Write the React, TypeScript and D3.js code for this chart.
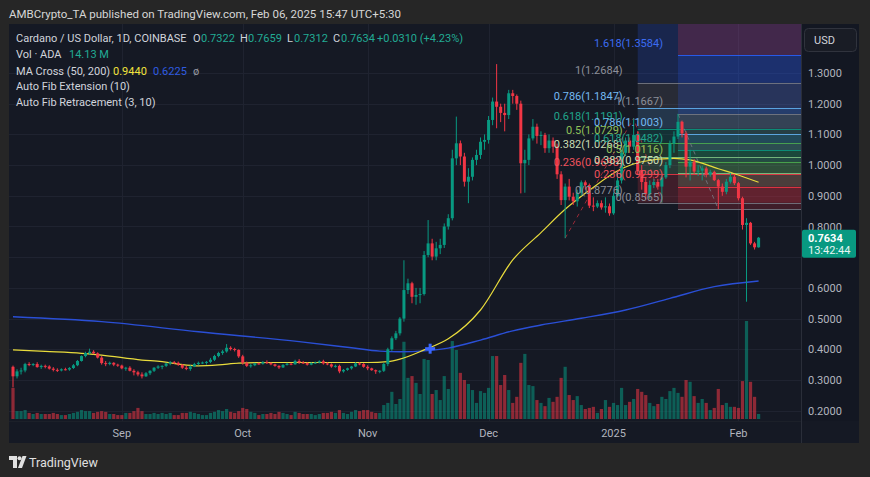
import React from "react";
import * as d3 from "d3";

// ADA/USD daily, Coinbase, 2024-08-05 .. 2025-02-06
const startDate = new Date(2024, 7, 5);
const firstOpen = 0.343;

const closes = [
  0.312, 0.328, 0.331, 0.352, 0.35, 0.352, 0.342, 0.346, 0.344, 0.337,
  0.333, 0.331, 0.335, 0.334, 0.339, 0.348, 0.362, 0.378, 0.388, 0.392,
  0.387, 0.373, 0.355, 0.352, 0.356, 0.35, 0.347, 0.338, 0.34, 0.33,
  0.325, 0.318, 0.312, 0.322, 0.33, 0.34, 0.344, 0.346, 0.354, 0.358,
  0.356, 0.35, 0.34, 0.336, 0.344, 0.352, 0.356, 0.357, 0.359, 0.366,
  0.378, 0.388, 0.393, 0.405, 0.401, 0.398, 0.377, 0.356, 0.346, 0.348,
  0.354, 0.353, 0.358, 0.355, 0.351, 0.346, 0.341, 0.349, 0.353, 0.351,
  0.362, 0.357, 0.355, 0.35, 0.355, 0.357, 0.361, 0.354, 0.351, 0.344,
  0.346, 0.328, 0.333, 0.338, 0.344, 0.354, 0.352, 0.343, 0.338, 0.332,
  0.328, 0.33, 0.352, 0.4, 0.436, 0.452, 0.5, 0.593, 0.615, 0.571,
  0.577, 0.58, 0.707, 0.745, 0.702, 0.729, 0.74, 0.8, 0.827, 1.022,
  1.071, 1.028, 0.946, 0.962, 1.017, 1.033, 1.076, 1.082, 1.147, 1.207,
  1.19, 1.17, 1.163, 1.234, 1.225, 1.2, 1.006, 1.017, 1.087, 1.125,
  1.095, 1.098, 1.055, 1.08, 1.06, 0.97, 0.886, 0.93, 0.897, 0.882,
  0.91, 0.944, 0.935, 0.868, 0.865, 0.876, 0.862, 0.866, 0.843, 0.9,
  0.95, 1.04, 1.08, 1.06, 1.098, 0.984, 0.945, 0.905, 0.935, 0.945,
  0.93, 0.96, 1.0, 1.07, 1.093, 1.141, 1.103, 0.995, 1.011, 0.979,
  0.982, 0.989, 0.968, 0.978, 0.951, 0.93, 0.913, 0.946, 0.962, 0.941,
  0.892, 0.805, 0.812, 0.745, 0.7322, 0.7634,
];

const highs = [
  0.347, 0.335, 0.34, 0.356, 0.358, 0.355, 0.358, 0.35, 0.35, 0.348,
  0.342, 0.338, 0.338, 0.34, 0.342, 0.352, 0.365, 0.38, 0.392, 0.402,
  0.397, 0.39, 0.378, 0.362, 0.36, 0.358, 0.353, 0.35, 0.343, 0.345,
  0.335, 0.33, 0.325, 0.326, 0.332, 0.342, 0.348, 0.348, 0.356, 0.362,
  0.362, 0.36, 0.352, 0.346, 0.348, 0.356, 0.36, 0.36, 0.362, 0.372,
  0.382, 0.392, 0.398, 0.417, 0.41, 0.405, 0.4, 0.382, 0.36, 0.352,
  0.356, 0.357, 0.362, 0.364, 0.358, 0.353, 0.348, 0.352, 0.356, 0.356,
  0.366, 0.368, 0.362, 0.358, 0.358, 0.36, 0.364, 0.366, 0.358, 0.354,
  0.35, 0.35, 0.336, 0.34, 0.346, 0.358, 0.358, 0.355, 0.348, 0.34,
  0.334, 0.332, 0.356, 0.405, 0.442, 0.46, 0.505, 0.69, 0.63, 0.62,
  0.6, 0.6, 0.72, 0.821, 0.76, 0.75, 0.76, 0.81, 0.84, 1.05,
  1.158, 1.08, 1.04, 0.99, 1.025, 1.05, 1.09, 1.1, 1.16, 1.22,
  1.329, 1.2, 1.2, 1.245, 1.245, 1.23, 1.21, 1.05, 1.1, 1.15,
  1.135, 1.11, 1.105, 1.1, 1.09, 1.07, 0.98, 0.94, 0.955, 0.91,
  0.92, 0.95, 0.95, 0.94, 0.895, 0.885, 0.885, 0.895, 0.875, 0.91,
  0.98, 1.05, 1.09, 1.09, 1.153, 1.11, 1.0, 0.96, 0.95, 0.955,
  0.955, 0.97, 1.01, 1.08, 1.11, 1.1667, 1.145, 1.11, 1.05, 1.02,
  1.0, 0.998, 0.995, 0.985, 0.982, 0.955, 0.94, 0.955, 0.975, 0.97,
  0.945, 0.897, 0.827, 0.815, 0.75, 0.7659,
];

const lows = [
  0.276, 0.305, 0.318, 0.325, 0.345, 0.345, 0.34, 0.336, 0.338, 0.334,
  0.328, 0.326, 0.328, 0.331, 0.33, 0.336, 0.345, 0.36, 0.374, 0.383,
  0.384, 0.37, 0.35, 0.345, 0.348, 0.345, 0.343, 0.335, 0.33, 0.328,
  0.315, 0.312, 0.305, 0.31, 0.316, 0.326, 0.336, 0.335, 0.342, 0.348,
  0.352, 0.346, 0.336, 0.332, 0.33, 0.342, 0.348, 0.352, 0.35, 0.355,
  0.362, 0.374, 0.382, 0.389, 0.396, 0.393, 0.372, 0.35, 0.342, 0.34,
  0.345, 0.35, 0.35, 0.352, 0.348, 0.343, 0.336, 0.339, 0.347, 0.348,
  0.35, 0.352, 0.352, 0.347, 0.348, 0.352, 0.354, 0.35, 0.348, 0.34,
  0.34, 0.322, 0.324, 0.33, 0.334, 0.342, 0.348, 0.34, 0.332, 0.33,
  0.32, 0.322, 0.326, 0.345, 0.395, 0.43, 0.445, 0.49, 0.58, 0.55,
  0.545, 0.55, 0.575, 0.7, 0.69, 0.69, 0.71, 0.73, 0.79, 0.82,
  1.0, 1.0, 0.93, 0.876, 0.95, 1.0, 1.02, 1.05, 1.07, 1.13,
  1.12, 1.14, 1.11, 1.15, 1.2, 1.18, 0.908, 0.91, 1.0, 1.08,
  1.07, 1.065, 1.04, 1.04, 1.04, 0.955, 0.87, 0.762, 0.885, 0.87,
  0.865, 0.9, 0.92, 0.86, 0.85, 0.86, 0.855, 0.845, 0.835, 0.838,
  0.895, 0.94, 1.03, 1.04, 1.05, 0.97, 0.92, 0.89, 0.89, 0.925,
  0.92, 0.8776, 0.955, 0.99, 1.04, 1.085, 1.09, 0.96, 0.95, 0.97,
  0.965, 0.95, 0.96, 0.962, 0.948, 0.8565, 0.9, 0.905, 0.94, 0.935,
  0.885, 0.79, 0.555, 0.74, 0.725, 0.7312,
];

// volume in millions ADA
const volumes = [
  87, 22, 22, 25, 17, 14, 17, 14, 14, 14,
  17, 14, 11, 11, 14, 17, 20, 25, 22, 22,
  17, 20, 22, 20, 14, 14, 11, 11, 17, 17,
  22, 31, 22, 14, 14, 17, 14, 17, 14, 17,
  11, 11, 17, 17, 20, 17, 14, 11, 11, 17,
  20, 25, 22, 28, 20, 17, 22, 31, 28, 20,
  17, 11, 14, 14, 17, 14, 20, 17, 14, 11,
  20, 17, 14, 14, 14, 11, 14, 17, 17, 20,
  17, 25, 17, 14, 20, 25, 22, 25, 25, 20,
  17, 17, 39, 45, 76, 42, 56, 216, 115, 120,
  101, 70, 168, 165, 70, 81, 53, 120, 84, 218,
  193, 129, 109, 98, 81, 45, 78, 73, 87, 176,
  176, 95, 123, 81, 45, 62, 157, 182, 95, 92,
  53, 45, 36, 59, 48, 62, 115, 146, 67, 53,
  64, 39, 28, 31, 34, 17, 28, 53, 34, 45,
  39, 87, 39, 48, 56, 84, 76, 67, 45, 36,
  42, 62, 56, 78, 87, 73, 62, 109, 104, 64,
  45, 56, 45, 25, 31, 84, 39, 45, 34, 34,
  31, 106, 274, 104, 62, 14.13,
];

// moving averages (day index, value)
const ma50Days = [0, 8, 17, 22, 32, 37, 41, 46, 51, 56, 63, 72, 80, 88, 93, 96, 102, 108, 116, 124, 131, 137, 143, 151, 156, 164, 168, 175, 179, 185];
const ma50Vals = [0.398, 0.393, 0.387, 0.381, 0.365, 0.36, 0.352, 0.346, 0.349, 0.355, 0.357, 0.357, 0.357, 0.357, 0.36, 0.368, 0.398, 0.434, 0.528, 0.691, 0.78, 0.856, 0.918, 0.988, 1.011, 1.022, 1.017, 0.988, 0.972, 0.944];
const ma200Days = [0, 22, 46, 71, 84, 91, 96, 102, 108, 116, 124, 131, 141, 152, 163, 174, 185];
const ma200Vals = [0.506, 0.49, 0.457, 0.425, 0.405, 0.394, 0.392, 0.395, 0.404, 0.43, 0.46, 0.479, 0.501, 0.528, 0.566, 0.604, 0.6225];
const crossDay = 103.5;
const crossPrice = 0.402;

const priceTicks = [0.2, 0.3, 0.4, 0.5, 0.6, 0.7, 0.8, 0.9, 1.0, 1.1, 1.2, 1.3];
const monthDates = [new Date(2024, 8, 1), new Date(2024, 9, 1), new Date(2024, 10, 1), new Date(2024, 11, 1), new Date(2025, 0, 1), new Date(2025, 1, 1)];
const monthLabels = ["Sep", "Oct", "Nov", "Dec", "2025", "Feb"];

// auto fib extension / retracement
const extRatios = [0, 0.236, 0.382, 0.5, 0.618, 0.786, 1, 1.618];
const extPrices = [0.8776, 0.9698, 1.0268, 1.0729, 1.1191, 1.1847, 1.2684, 1.5099];
const extStartDay = 155;
const extPivotDays = [137, 154, 161];
const extPivotPrices = [0.762, 1.153, 0.8776];
const retrRatios = [0, 0.236, 0.382, 0.5, 0.618, 0.786, 1, 1.618, 2.618];
const retrPrices = [0.8565, 0.9299, 0.975, 1.0116, 1.0482, 1.1003, 1.1667, 1.3584, 1.6686];
const retrStartDay = 165;
const retrPivotDays = [165, 175];
const retrPivotPrices = [1.1667, 0.8565];
const fibColors: Record<string, string> = {
  "0": "#787b86",
  "0.236": "#f23645",
  "0.382": "#81c784",
  "0.5": "#4caf50",
  "0.618": "#089981",
  "0.786": "#64b5f6",
  "1": "#787b86",
  "1.618": "#2962ff",
  "2.618": "#f23645",
};
const fibLabelColors: Record<string, string> = {
  "0": "#8c8f99",
  "0.236": "#f0525d",
  "0.382": "#c9dcb4",
  "0.5": "#8fc25a",
  "0.618": "#20a58c",
  "0.786": "#74b9f2",
  "1": "#8c8f99",
  "1.618": "#3c6cf2",
};

const UP = "#089981";
const DOWN = "#f23645";
const FONT = "Roboto, 'Noto Sans', sans-serif";

const W = 870;
const H = 477;
const panel = { left: 9, top: 24, right: 859, bottom: 443 };
const plot = { left: 9, top: 24, right: 801, bottom: 421 };

const App: React.FC = () => {
  const xScale = d3.scaleLinear().domain([0, 185]).range([13, 758.6]);
  const yScale = d3.scaleLinear().domain([0.2, 1.3]).range([410.7, 73]);
  const volScale = d3.scaleLinear().domain([0, 274]).range([0, 98]);
  const volBase = 419;

  const candles = closes.map((c, i) => ({
    i,
    o: i === 0 ? firstOpen : closes[i - 1],
    h: highs[i],
    l: lows[i],
    c,
    v: volumes[i],
  }));

  const maLine = d3
    .line<[number, number]>()
    .x((d) => xScale(d[0]))
    .y((d) => yScale(d[1]))
    .curve(d3.curveMonotoneX);
  const ma50Path = maLine(ma50Days.map((d, k) => [d, ma50Vals[k]]));
  const ma200Path = maLine(ma200Days.map((d, k) => [d, ma200Vals[k]]));

  const monthX = monthDates.map((d) => xScale(d3.timeDay.count(startDate, d)));

  const lastClose = closes[closes.length - 1];
  const labelTop = yScale(lastClose) - 8;
  const labelBottom = labelTop + 28;

  const fibBands = (ratios: number[], prices: number[], startDay: number) => {
    const x0 = xScale(startDay);
    return ratios.slice(1).map((r, k) => {
      const yTop = yScale(prices[k + 1]);
      const yBot = yScale(prices[k]);
      return (
        <rect
          key={`b${startDay}-${k}`}
          x={x0}
          y={yTop}
          width={plot.right - x0}
          height={yBot - yTop}
          fill={fibColors[String(r)]}
          opacity={0.19}
        />
      );
    });
  };

  const fibLines = (ratios: number[], prices: number[], startDay: number) => {
    const x0 = xScale(startDay);
    return ratios.map((r, k) => (
      <line
        key={`l${startDay}-${k}`}
        x1={x0}
        x2={plot.right}
        y1={Math.round(yScale(prices[k])) + 0.5}
        y2={Math.round(yScale(prices[k])) + 0.5}
        stroke={fibColors[String(r)]}
        strokeWidth={1}
        opacity={0.85}
      />
    ));
  };

  const fibLabels = (ratios: number[], prices: number[], startDay: number) => {
    const x0 = xScale(startDay) - 15;
    return ratios
      .filter((_, k) => prices[k] < 1.45)
      .map((r, k) => (
        <text
          key={`t${startDay}-${k}`}
          x={x0}
          y={yScale(prices[k]) - 8.5}
          textAnchor="end"
          fontSize={11}
          fill={fibLabelColors[String(r)]}
        >
          {`${r}(${prices[k].toFixed(4)})`}
        </text>
      ));
  };

  const pivotPath = (days: number[], prices: number[]) =>
    d3
      .line<number>()
      .x((d) => xScale(d))
      .y((_, k) => yScale(prices[k]))(days);

  const cx = xScale(crossDay);
  const cy = yScale(crossPrice);

  return (
    <svg
      width={W}
      height={H}
      viewBox={`0 0 ${W} ${H}`}
      style={{ position: "absolute", left: 0, top: 0, display: "block" }}
      fontFamily={FONT}
    >
      <defs>
        <clipPath id="plotClip">
          <rect x={plot.left} y={plot.top} width={plot.right - plot.left} height={plot.bottom - plot.top} />
        </clipPath>
      </defs>
      <rect x={0} y={0} width={W} height={H} fill="#262626" />
      <text x={9} y={18} fontSize={11.5} fill="#d6d6d6">
        AMBCrypto_TA published on TradingView.com, Feb 06, 2025 15:47 UTC+5:30
      </text>

      <rect
        x={panel.left}
        y={panel.top}
        width={panel.right - panel.left}
        height={panel.bottom - panel.top}
        fill="#151924"
      />
      <rect x={plot.right} y={panel.top} width={panel.right - plot.right} height={plot.bottom - panel.top} fill="#131722" />

      {/* grid */}
      <g stroke="#1f2330" strokeWidth={1}>
        {priceTicks.map((p) => (
          <line
            key={`g${p}`}
            x1={plot.left}
            x2={plot.right}
            y1={Math.round(yScale(p)) + 0.5}
            y2={Math.round(yScale(p)) + 0.5}
          />
        ))}
        {monthX.map((x, k) => (
          <line key={`gv${k}`} x1={Math.round(x) + 0.5} x2={Math.round(x) + 0.5} y1={plot.top} y2={plot.bottom} />
        ))}
      </g>

      <g clipPath="url(#plotClip)">
        {/* fib zones */}
        {fibBands(extRatios, extPrices, extStartDay)}
        {fibBands(retrRatios, retrPrices, retrStartDay)}
        {fibLines(extRatios, extPrices, extStartDay)}
        {fibLines(retrRatios, retrPrices, retrStartDay)}
        <path
          d={pivotPath(extPivotDays, extPivotPrices) || ""}
          fill="none"
          stroke="#f23645"
          strokeOpacity={0.6}
          strokeDasharray="4 4"
          strokeWidth={1}
        />
        <path
          d={pivotPath(retrPivotDays, retrPivotPrices) || ""}
          fill="none"
          stroke="#787b86"
          strokeOpacity={0.8}
          strokeDasharray="4 4"
          strokeWidth={1}
        />

        {/* volume */}
        {candles.map((d) => (
          <rect
            key={`v${d.i}`}
            x={xScale(d.i) - 1.6}
            y={volBase - volScale(d.v)}
            width={3.2}
            height={volScale(d.v)}
            fill={d.c >= d.o ? UP : DOWN}
            opacity={0.55}
          />
        ))}

        {/* moving averages */}
        <path d={ma200Path || ""} fill="none" stroke="#2a4fd6" strokeWidth={1.4} />
        <path d={ma50Path || ""} fill="none" stroke="#e9dc3c" strokeWidth={1.2} />

        {/* candles */}
        {candles.map((d) => {
          const x = xScale(d.i);
          const col = d.c >= d.o ? UP : DOWN;
          const yTop = yScale(Math.max(d.o, d.c));
          const yBot = yScale(Math.min(d.o, d.c));
          return (
            <g key={`c${d.i}`}>
              <line x1={x} x2={x} y1={yScale(Math.max(d.h, d.o, d.c))} y2={yScale(Math.min(d.l, d.o, d.c))} stroke={col} strokeWidth={1} />
              <rect x={x - 1.5} y={yTop} width={3} height={Math.max(1, yBot - yTop)} fill={col} />
            </g>
          );
        })}

        {/* golden cross marker */}
        <g stroke="#3a66ff" strokeWidth={3}>
          <line x1={cx - 5} x2={cx + 5} y1={cy} y2={cy} />
          <line x1={cx} x2={cx} y1={cy - 5} y2={cy + 5} />
        </g>

        {fibLabels(extRatios, extPrices, extStartDay)}
        {fibLabels(retrRatios, retrPrices, retrStartDay)}
      </g>

      {/* axes borders */}
      <line x1={plot.right + 0.5} x2={plot.right + 0.5} y1={panel.top} y2={panel.bottom} stroke="#2a2e39" />
      <line x1={plot.left} x2={plot.right} y1={plot.bottom + 0.5} y2={plot.bottom + 0.5} stroke="#1c2029" />

      {/* price axis (a tick fully under the last-price label is skipped) */}
      {priceTicks
        .filter((p) => yScale(p) < labelTop || yScale(p) > labelBottom)
        .map((p) => (
          <text key={`pt${p}`} x={808} y={yScale(p) + 4} fontSize={11} fill="#b2b5be">
            {p.toFixed(4)}
          </text>
        ))}
      <rect x={804.5} y={28.5} width={52} height={23} rx={4} fill="#191c25" stroke="#30333d" />
      <text x={814} y={44} fontSize={11} fill="#d1d4dc">
        USD
      </text>
      <rect x={802} y={labelTop} width={54} height={28} rx={2} fill="#089981" />
      <text x={808} y={yScale(lastClose) + 4} fontSize={11} fontWeight="bold" fill="#ffffff">
        {lastClose.toFixed(4)}
      </text>
      <text x={808} y={yScale(lastClose) + 16} fontSize={11} fill="#e6f5f2">
        13:42:44
      </text>

      {/* time axis */}
      {monthX.map((x, k) => (
        <text key={`mt${k}`} x={x} y={437} fontSize={11} textAnchor="middle" fill="#b2b5be">
          {monthLabels[k]}
        </text>
      ))}

      {/* legend */}
      <g fontSize={11} fill="#d1d4dc">
        <text x={16} y={42}>Cardano / US Dollar, 1D, COINBASE</text>
        <text x={193} y={42}>O</text>
        <text x={201} y={42} fill="#22ab94">0.7322</text>
        <text x={240} y={42}>H</text>
        <text x={248} y={42} fill="#22ab94">0.7659</text>
        <text x={287} y={42}>L</text>
        <text x={294} y={42} fill="#22ab94">0.7312</text>
        <text x={333} y={42}>C</text>
        <text x={341} y={42} fill="#22ab94">0.7634</text>
        <text x={377} y={42} fill="#22ab94">+0.0310 (+4.23%)</text>
        <text x={16} y={58}>Vol · ADA</text>
        <text x={69} y={58} fill="#22ab94">14.13 M</text>
        <text x={16} y={75}>MA Cross (50, 200)</text>
        <text x={113} y={75} fill="#f2e33c">0.9440</text>
        <text x={153} y={75} fill="#2f5ce0">0.6225</text>
        <text x={193} y={75} fill="#9598a1">ø</text>
        <text x={16} y={90}>Auto Fib Extension (10)</text>
        <text x={16} y={106}>Auto Fib Retracement (3, 10)</text>
      </g>

      {/* footer logo */}
      <g fill="#e0e0e0">
        <path d="M9 456 h8 v12 h-4 v-8 h-4 z" />
        <circle cx={19.5} cy={458.2} r={2} />
        <path d="M22.5 456 h4 l-4.5 12 h-4 z" />
        <text x={29} y={466.5} fontSize={12.5}>
          TradingView
        </text>
      </g>
    </svg>
  );
};

export default App;
